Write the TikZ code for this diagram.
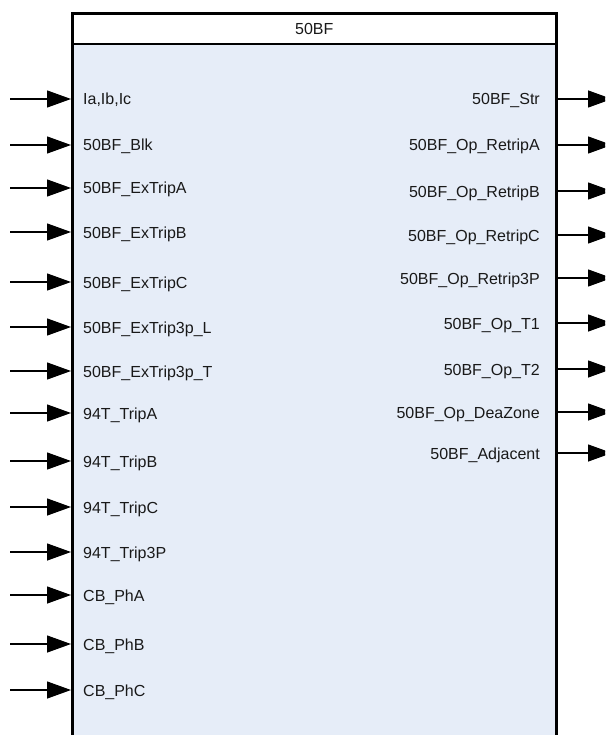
\documentclass[tikz,border=0pt]{standalone}
\usepackage{fontspec}
\setmainfont{Liberation Sans}
\usetikzlibrary{arrows.meta}
\definecolor{boxfill}{RGB}{230,237,248}
\definecolor{txt}{RGB}{25,25,25}
\begin{document}
\begin{tikzpicture}[x=1pt,y=-1pt,
  lbl/.style={font=\fontsize{16}{19}\selectfont, text=txt, inner sep=0pt},
  arr/.style={-{Triangle[length=24pt,width=17pt]}, line width=1.3pt},
  blockbox/.style={draw, line width=2.5pt, fill=boxfill, minimum width=484pt, minimum height=740pt, anchor=north west, inner sep=0pt},
  titlebox/.style={draw, line width=2.5pt, fill=white, minimum width=484pt, minimum height=30.5pt, anchor=north west, inner sep=0pt, font=\fontsize{16}{19}\selectfont, text=txt}]
\useasboundingbox (0,0) rectangle (605,735);
\clip (0,0) rectangle (605,735);
\node[blockbox] (box) at (71,12.5) {};
\node[titlebox] (title) at (71,12.5) {50BF};
% inputs
\foreach \n/\y/\t in {1/99/{Ia,Ib,Ic}, 2/145/{50BF\_Blk}, 3/188/{50BF\_ExTripA}, 4/232/{50BF\_ExTripB}, 5/282/{50BF\_ExTripC}, 6/327/{50BF\_ExTrip3p\_L}, 7/371/{50BF\_ExTrip3p\_T}, 8/413/{94T\_TripA}, 9/461/{94T\_TripB}, 10/507/{94T\_TripC}, 11/552/{94T\_Trip3P}, 12/595/{CB\_PhA}, 13/644/{CB\_PhB}, 14/690/{CB\_PhC}}{
  \coordinate (src\n) at (10,\y);
  \node[lbl, anchor=base west] (in\n) at (83,\y+6) {\t};
  \draw[arr] (src\n) -- (box.west |- src\n);
}
% outputs
\foreach \n/\y/\t in {1/99/{50BF\_Str}, 2/145/{50BF\_Op\_RetripA}, 3/191/{50BF\_Op\_RetripB}, 4/235/{50BF\_Op\_RetripC}, 5/278/{50BF\_Op\_Retrip3P}, 6/323/{50BF\_Op\_T1}, 7/369/{50BF\_Op\_T2}, 8/412/{50BF\_Op\_DeaZone}, 9/453/{50BF\_Adjacent}}{
  \coordinate (dst\n) at (612,\y);
  \node[lbl, anchor=base east] (out\n) at (540,\y+6) {\t};
  \draw[arr] (box.east |- dst\n) -- (dst\n);
}
\end{tikzpicture}
\end{document}
